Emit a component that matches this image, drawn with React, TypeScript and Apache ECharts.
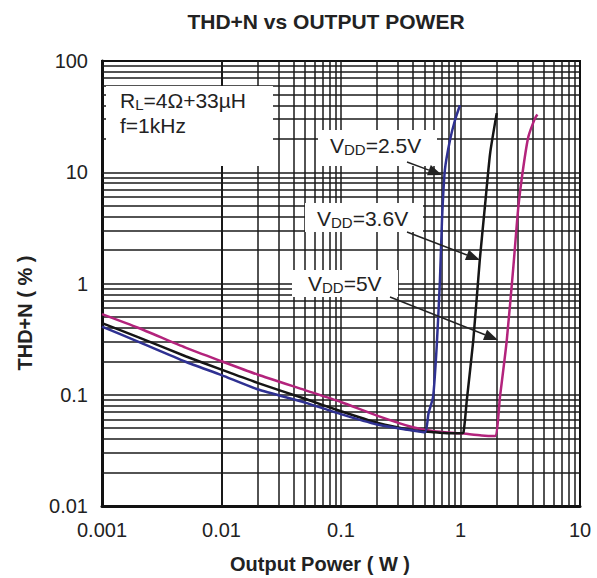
import React, { useEffect, useRef } from "react";
import * as echarts from "echarts";

// ---- data ----
const xTickLabels = ["0.001", "0.01", "0.1", "1", "10"];
const yTickLabels = ["0.01", "0.1", "1", "10", "100"];

const xGridValues = [
  0.002, 0.003, 0.004, 0.005, 0.006, 0.007, 0.008, 0.009, 0.01,
  0.02, 0.03, 0.04, 0.05, 0.06, 0.07, 0.08, 0.09, 0.1,
  0.2, 0.3, 0.4, 0.5, 0.6, 0.7, 0.8, 0.9, 1,
  2, 3, 4, 5, 6, 7, 8, 9,
];
const yGridValues = [
  0.02, 0.03, 0.04, 0.05, 0.06, 0.07, 0.08, 0.09, 0.1,
  0.2, 0.3, 0.4, 0.5, 0.6, 0.7, 0.8, 0.9, 1,
  2, 3, 4, 5, 6, 7, 8, 9, 10,
  20, 30, 40, 50, 60, 70, 80, 90,
];

// VDD = 2.5V (blue)
const power25 = [0.001, 0.002, 0.005, 0.01, 0.02, 0.05, 0.1, 0.2, 0.3, 0.4, 0.505, 0.54, 0.59, 0.632, 0.673, 0.70, 0.74, 0.817, 0.90, 0.99];
const thd25 = [0.41, 0.30, 0.198, 0.150, 0.112, 0.085, 0.067, 0.054, 0.050, 0.0477, 0.046, 0.068, 0.096, 0.27, 1.07, 3.7, 10.5, 19.5, 29.5, 40];

// VDD = 3.6V (black)
const power36 = [0.001, 0.002, 0.005, 0.01, 0.02, 0.05, 0.1, 0.2, 0.4, 0.6, 0.8, 1.0, 1.06, 1.13, 1.28, 1.45, 1.6, 1.77, 2.01];
const thd36 = [0.44, 0.33, 0.222, 0.168, 0.128, 0.092, 0.071, 0.056, 0.048, 0.046, 0.045, 0.045, 0.046, 0.09, 0.31, 1.63, 4.9, 14.8, 34];

// VDD = 5V (magenta)
const power5 = [0.001, 0.002, 0.005, 0.01, 0.02, 0.05, 0.1, 0.2, 0.4, 0.6, 1.0, 1.5, 1.94, 2.14, 2.44, 2.77, 3.05, 3.36, 3.7, 4.2, 4.4];
const thd5 = [0.53, 0.40, 0.265, 0.20, 0.152, 0.110, 0.086, 0.065, 0.051, 0.047, 0.045, 0.043, 0.0425, 0.096, 0.31, 1.42, 4.9, 11.2, 20.9, 30.5, 33];

const seriesNames = ["VDD=2.5V", "VDD=3.6V", "VDD=5V"];
const seriesColors = ["#2f3192", "#151515", "#b3237c"];

const FONT = "Arial, 'Liberation Sans', Helvetica, sans-serif";

function pairs(xs: number[], ys: number[]) {
  return xs.map((x, i) => [x, ys[i]]);
}

function fmtFrom(labels: string[]) {
  return (v: number) => {
    const l = Math.round(Math.log10(v));
    const found = labels.find((s) => Math.round(Math.log10(parseFloat(s))) === l);
    return found ?? String(v);
  };
}

function arrow(x1: number, y1: number, x2: number, y2: number) {
  const dx = x2 - x1, dy = y2 - y1;
  const len = Math.sqrt(dx * dx + dy * dy);
  const ux = dx / len, uy = dy / len;
  const hl = 14, hw = 5.5;
  const bx = x2 - ux * hl, by = y2 - uy * hl;
  return [
    { type: "line", z: 20, shape: { x1, y1, x2: bx, y2: by }, style: { stroke: "#222", lineWidth: 1.5 } },
    {
      type: "polygon", z: 20,
      shape: { points: [[x2, y2], [bx - uy * hw, by + ux * hw], [bx + uy * hw, by - ux * hw]] },
      style: { fill: "#222" },
    },
  ];
}

function vddLabel(x: number, y: number, value: string) {
  return {
    type: "text", z: 20, x, y,
    style: {
      text: `{a|V}{b|DD}{a|=${value}}`,
      verticalAlign: "middle",
      rich: {
        a: { fontSize: 21, fontFamily: FONT, fill: "#222", lineHeight: 24 },
        b: { fontSize: 15, fontFamily: FONT, fill: "#222", lineHeight: 13, verticalAlign: "bottom" },
      },
    },
  };
}

export default function App() {
  const ref = useRef<HTMLDivElement>(null);
  useEffect(() => {
    if (!ref.current) return;
    const chart = echarts.init(ref.current, undefined, { renderer: "svg" });
    const gridLineStyle = { color: "#1a1a1a", width: 1.5, type: "solid" as const };
    const boxes = [
      { x: 106, y: 86, w: 167, h: 80 },
      { x: 318, y: 130, w: 119, h: 36 },
      { x: 305, y: 203, w: 118, h: 29 },
      { x: 292, y: 270, w: 106, h: 27 },
    ];
    const option: any = {
      animation: false,
      backgroundColor: "#ffffff",
      grid: { left: 102, right: 17, top: 61, bottom: 72, containLabel: false, show: true, borderColor: "#111", borderWidth: 2 },
      xAxis: {
        type: "log", logBase: 10, min: 0.001, max: 10,
        axisLine: { show: true, lineStyle: { color: "#111", width: 3 } },
        axisTick: { show: false },
        splitLine: { show: false },
        minorSplitLine: { show: false },
        axisLabel: { fontSize: 20, fontFamily: FONT, color: "#222", margin: 14, formatter: fmtFrom(xTickLabels) },
      },
      yAxis: {
        type: "log", logBase: 10, min: 0.01, max: 100,
        axisLine: { show: true, lineStyle: { color: "#111", width: 3 } },
        axisTick: { show: false },
        splitLine: { show: false },
        axisLabel: { fontSize: 20, fontFamily: FONT, color: "#222", margin: 14, formatter: fmtFrom(yTickLabels) },
      },
      series: [
        {
          name: "grid",
          type: "line",
          z: 1,
          silent: true,
          data: [[0.001, 0.01]],
          showSymbol: false,
          lineStyle: { opacity: 0 },
          markLine: {
            z: 1,
            silent: true,
            symbol: "none",
            label: { show: false },
            lineStyle: gridLineStyle,
            emphasis: { disabled: true },
            animation: false,
            data: [
              ...xGridValues.map((v) => ({ xAxis: v })),
              ...yGridValues.map((v) => ({ yAxis: v })),
            ],
          },
        },
        ...[pairs(power5, thd5), pairs(power36, thd36), pairs(power25, thd25)].map((d, i) => {
          const idx = [2, 1, 0][i];
          return {
            name: seriesNames[idx],
            type: "line",
            z: 10,
            data: d,
            showSymbol: false,
            smooth: 0.2,
            lineStyle: { color: seriesColors[idx], width: 2.5 },
            itemStyle: { color: seriesColors[idx] },
          };
        }),
      ],
      graphic: [
        ...boxes.map((b) => ({
          type: "rect", z: 6, shape: { x: b.x, y: b.y, width: b.w, height: b.h },
          style: { fill: "#ffffff" },
        })),
        {
          type: "text", z: 20, x: 326, y: 21,
          style: { text: "THD+N vs OUTPUT POWER", fontSize: 21, fontWeight: "bold", fontFamily: FONT, fill: "#222", align: "center", verticalAlign: "middle" },
        },
        {
          type: "text", z: 20, x: 320, y: 564,
          style: { text: "Output Power ( W )", fontSize: 20, fontWeight: "bold", fontFamily: FONT, fill: "#222", align: "center", verticalAlign: "middle" },
        },
        {
          type: "text", z: 20, x: 25, y: 313, rotation: Math.PI / 2,
          style: { text: "THD+N ( % )", fontSize: 20, fontWeight: "bold", fontFamily: FONT, fill: "#222", align: "center", verticalAlign: "middle" },
        },
        {
          type: "text", z: 20, x: 120, y: 100,
          style: {
            text: "{a|R}{b|L}{a|=4Ω+33µH}",
            verticalAlign: "middle",
            rich: {
              a: { fontSize: 21, fontFamily: FONT, fill: "#222", lineHeight: 24 },
              b: { fontSize: 15, fontFamily: FONT, fill: "#222", lineHeight: 13, verticalAlign: "bottom" },
            },
          },
        },
        {
          type: "text", z: 20, x: 120, y: 125,
          style: { text: "f=1kHz", fontSize: 21, fontFamily: FONT, fill: "#222", verticalAlign: "middle" },
        },
        vddLabel(330, 145, "2.5V"),
        vddLabel(317, 218, "3.6V"),
        vddLabel(308, 283, "5V"),
        ...arrow(407, 162, 442, 175),
        ...arrow(407, 232, 480, 260),
        ...arrow(390, 297, 498, 340),
      ],
    };
    chart.setOption(option);
    return () => chart.dispose();
  }, []);
  return (
    <div
      ref={ref}
      style={{ position: "fixed", left: 0, top: 0, width: 597, height: 578, background: "#fff" }}
    />
  );
}
